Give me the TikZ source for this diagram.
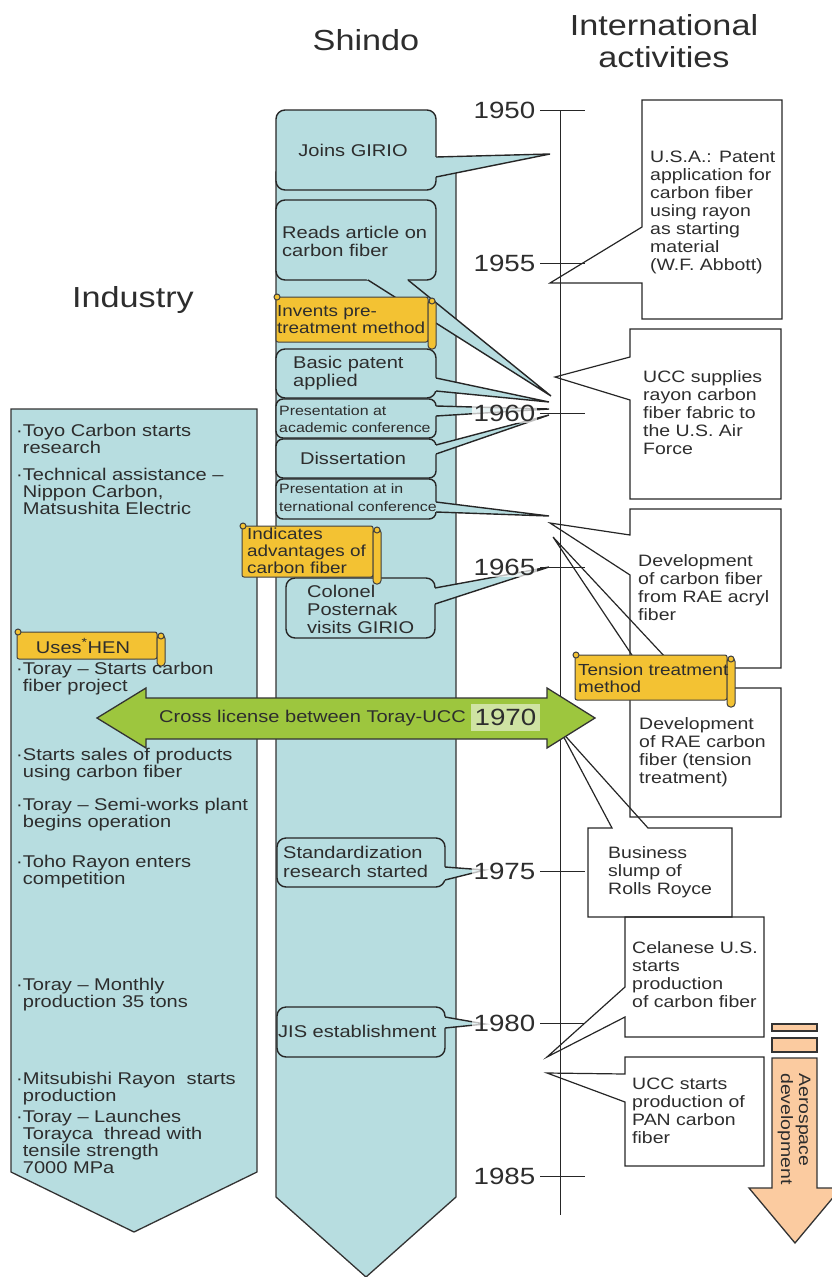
\documentclass[tikz,border=0pt]{standalone}
\usepackage{fontspec}
\setmainfont{Liberation Sans}[FakeStretch=1.18]
\usetikzlibrary{calc}
\definecolor{colblue}{RGB}{183,221,224}
\definecolor{scrollgold}{RGB}{243,194,51}
\definecolor{arrowgreen}{RGB}{157,198,62}
\definecolor{yeargreen}{RGB}{207,227,163}
\definecolor{aerosalmon}{RGB}{251,203,160}
\definecolor{txtgray}{RGB}{45,45,45}
\newcommand\fsz[2]{\fontsize{#1pt}{#2pt}\selectfont}
% tail of a speech box: base point, tip, base point
\newcommand\tail[6]{%
  \fill[colblue] ($(#1,#2)!-2pt!(#3,#4)$) -- (#3,#4) -- ($(#5,#6)!-2pt!(#3,#4)$) -- cycle;
  \draw[calline] (#1,#2) -- (#3,#4) -- (#5,#6);}
% scroll label: x0 y0 x1 y1
\newcommand\scrollbox[4]{%
  \draw[scrl, rounded corners=2pt] (#1,#2) rectangle (#3,#4);
  \draw[scrl, rounded corners=3.5pt] (#3,{#2+3}) rectangle ({#3+8},{#4+7});
  \draw[scrl] ({#1+1},#2) circle (3);
  \draw[scrl] ({#3+4},{#2+4}) circle (3);}
\begin{document}
\begin{tikzpicture}[x=1pt,y=-1pt,
  every node/.style={text=txtgray, inner sep=0pt},
  col/.style={fill=colblue, draw=black!80, line width=1.3pt},
  callbox/.style={fill=colblue, draw=black!85, line width=1.4pt, rounded corners=9pt},
  calline/.style={draw=black!85, line width=1.4pt, line join=miter},
  rbox/.style={draw=black!85, line width=1.2pt},
  scrl/.style={fill=scrollgold, draw=black!75, line width=1pt},
  axline/.style={draw=black!85, line width=1pt},
  yearlab/.style={font=\fsz{23.5}{24}, fill=white, fill opacity=0.7, text opacity=1, inner sep=1.5pt, anchor=east},
  ind/.style={anchor=west, align=left, font=\fsz{17}{17}},
  shd/.style={anchor=west, align=left, font=\fsz{17}{18}},
  rtxt/.style={anchor=west, align=left, font=\fsz{16.5}{18}},
  sctxt/.style={anchor=west, align=left, font=\fsz{16}{17}}]
\useasboundingbox (0,0) rectangle (832,1277);
% titles
\node[font=\fsz{29}{32}] (shindo) at (366,40) {Shindo};
\node[font=\fsz{29}{32}, align=center] (intl) at (664,41) {International\\activities};
\node[font=\fsz{29}{32}] (industry) at (133,300) {Industry};
% columns
\draw[col] (11,409) -- (257,409) -- (257,1172) -- (134,1232) -- (11,1172) -- cycle;
\draw[col] (276,172) -- (456,172) -- (456,1197) -- (366,1277) -- (276,1197) -- cycle;
% international boxes
\draw[rbox] (642,100) -- (782,100) -- (782,319) -- (642,319) -- (642,283) -- (550,283) -- (642,227) -- cycle;
\draw[rbox] (630,329) -- (781,329) -- (781,499) -- (630,499) -- (630,400) -- (555,377) -- (630,357) -- cycle;
\draw[rbox] (630,509) -- (781,509) -- (781,668) -- (630,668) -- (630,575) -- (550,523) -- (630,535) -- cycle;
\draw[rbox] (630,688) -- (654,688) -- (553,537) -- (694,688) -- (781,688) -- (781,817) -- (630,817) -- cycle;
\draw[rbox] (588,828) -- (612,828) -- (560,730) -- (648,828) -- (732,828) -- (732,917) -- (588,917) -- cycle;
\draw[rbox] (625,917) -- (764,917) -- (764,1037) -- (625,1037) -- (625,1017) -- (547,1057) -- (625,987) -- cycle;
\draw[rbox] (625,1057) -- (764,1057) -- (764,1166) -- (625,1166) -- (625,1102) -- (547,1073) -- (625,1074) -- cycle;
% Shindo speech boxes
\draw[callbox] (276,110) rectangle (436,190);
\tail{436}{157}{550}{154}{436}{177}
\draw[callbox] (276,200) rectangle (436,280);
\tail{368}{280}{551}{396}{408}{280}
\draw[callbox] (276,349) rectangle (436,398);
\tail{436}{378}{549}{402}{436}{391}
\draw[callbox, rounded corners=7pt] (276,399) rectangle (436,438);
\tail{436}{406}{549}{409}{436}{416}
\draw[callbox, rounded corners=7pt] (276,439) rectangle (436,478);
\tail{436}{445}{549}{415}{436}{454}
\draw[callbox, rounded corners=7pt] (276,479) rectangle (436,519);
\tail{436}{502}{549}{516}{436}{512}
\draw[callbox] (286,578) rectangle (435,638);
\tail{435}{588}{549}{567}{435}{604}
\draw[callbox] (277,838) rectangle (445,887);
\tail{445}{867}{485}{870}{445}{880}
\draw[callbox] (277,1007) rectangle (445,1057);
\tail{445}{1017}{485}{1024}{445}{1028}
% time axis
\coordinate (axtop) at (560,110);
\coordinate (axbot) at (560,1215);
\draw[axline] (axtop) -- (axbot);
\foreach \yr/\ty in {1950/110,1955/263,1960/413,1965/567,1975/871,1980/1023,1985/1176}{
  \draw[axline] (540,\ty) -- (585,\ty);
  \node[yearlab] (y\yr) at (537,\ty) {\yr};
}
% scrolls
\scrollbox{276}{297}{428}{342}
\scrollbox{242}{526}{373}{577}
\scrollbox{17}{632}{157}{659}
\scrollbox{575}{655}{727}{700}
% cross license arrow
\draw[col, fill=arrowgreen] (97,718) -- (146,688) -- (146,698) -- (547,698) -- (547,688) -- (595,718)
  -- (547,748) -- (547,739) -- (146,739) -- (146,748) -- cycle;
\node[anchor=west, font=\fsz{17}{17}] (cross) at (159,718) {Cross license between Toray-UCC};
\node[fill=yeargreen, font=\fsz{23.5}{24}, minimum width=69pt, minimum height=27pt] (y1970) at (505.5,717.5) {1970};
% aerospace arrow
\draw[col, fill=aerosalmon] (772,1024) rectangle (817,1031);
\draw[col, fill=aerosalmon] (772,1038) rectangle (817,1052);
\draw[col, fill=aerosalmon] (772,1058) -- (817,1058) -- (817,1188) -- (841,1188) -- (795,1243)
  -- (749,1188) -- (772,1188) -- cycle;
\node[rotate=-90, align=left, font=\fsz{16.5}{18}] (aerotxt) at (794,1129) {Aerospace\\development};
% industry items
\node[ind] (toyo) at (16,438.5) {·Toyo Carbon starts\\\hphantom{·}research};
\node[ind] (techassist) at (16,491) {·Technical assistance –\\\hphantom{·}Nippon Carbon,\\\hphantom{·}Matsushita Electric};
\node[ind] (toraystart) at (16,679) {·Toray – Starts carbon\\\hphantom{·}fiber project};
\node[ind] (sales) at (16,765) {·Starts sales of products\\\hphantom{·}using carbon fiber};
\node[ind] (semiworks) at (16,815) {·Toray – Semi-works plant\\\hphantom{·}begins operation};
\node[ind] (toho) at (16,872) {·Toho Rayon enters\\\hphantom{·}competition};
\node[ind] (monthly) at (16,995) {·Toray – Monthly\\\hphantom{·}production 35 tons};
\node[ind] (mitsubishi) at (16,1088.5) {·Mitsubishi Rayon\ \ starts\\\hphantom{·}production};
\node[ind] (launch) at (16,1141.5) {·Toray – Launches\\\hphantom{·}Torayca\ \ thread with\\\hphantom{·}tensile strength\\\hphantom{·}7000 MPa};
% Shindo items
\node[font=\fsz{17}{18}] (girio) at (353,150) {Joins GIRIO};
\node[shd] (reads) at (282,241) {Reads article on\\carbon fiber};
\node[shd] (patent) at (293,373) {Basic patent\\applied};
\node[shd, font=\fsz{13.5}{17}] (academic) at (279,419.5) {Presentation at\\academic conference};
\node[font=\fsz{17}{18}] (dissert) at (353,458) {Dissertation};
\node[shd, font=\fsz{13.5}{18}] (intconf) at (279,498) {Presentation at in\\ternational conference};
\node[shd] (colonel) at (307,609) {Colonel\\Posternak\\visits GIRIO};
\node[shd, font=\fsz{17}{19}] (standard) at (283,862) {Standardization\\research started};
\node[shd] (jis) at (278,1031) {JIS establishment};
% scroll texts
\node[sctxt] (pretreat) at (277,319.5) {Invents pre-\\treatment method};
\node[sctxt] (advant) at (247,551) {Indicates\\advantages of\\carbon fiber};
\node[font=\fsz{17}{17}] (hen) at (83,646) {Uses\textsuperscript{*}HEN};
\node[sctxt] (tension) at (578,678.5) {Tension treatment\\method};
% international texts
\node[rtxt] (usa) at (650,212) {U.S.A.: Patent\\application for\\carbon fiber\\using rayon\\as starting\\material\\(W.F. Abbott)};
\node[rtxt] (uccfabric) at (643,413) {UCC supplies\\rayon carbon\\fiber fabric to\\the U.S. Air\\Force};
\node[rtxt] (raeacryl) at (638,588) {Development\\of carbon fiber\\from RAE acryl\\fiber};
\node[rtxt] (raecarbon) at (639,752) {Development\\of RAE carbon\\fiber (tension\\treatment)};
\node[rtxt] (rolls) at (608,872) {Business\\slump of\\Rolls Royce};
\node[rtxt] (celanese) at (632,975) {Celanese U.S.\\starts\\production\\of carbon fiber};
\node[rtxt] (uccpan) at (632,1111) {UCC starts\\production of\\PAN carbon\\fiber};
\end{tikzpicture}
\end{document}
